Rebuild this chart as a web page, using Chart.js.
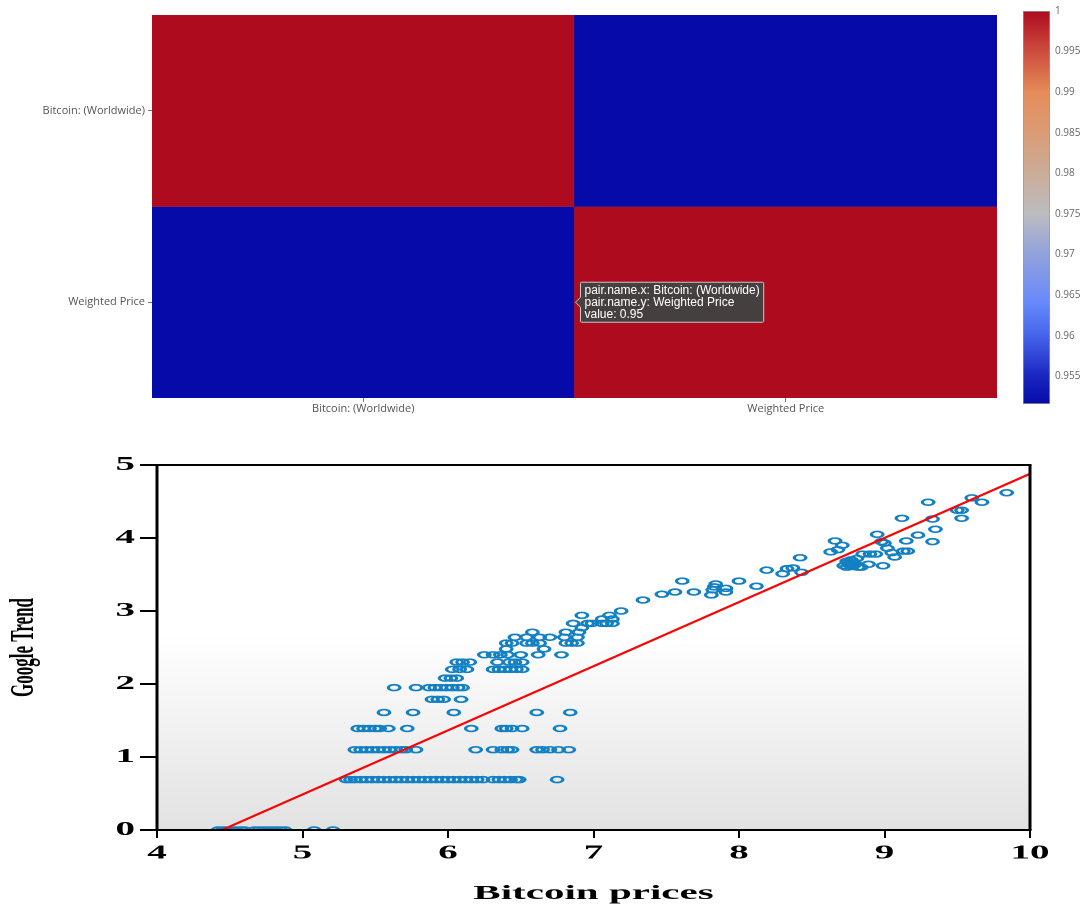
<!DOCTYPE html>
<html>
<head>
<meta charset="utf-8">
<script src="https://cdn.jsdelivr.net/npm/chart.js@4.4.0/dist/chart.umd.min.js"></script>
<style>
html, body { margin: 0; padding: 0; background: #fff; }
body { width: 1082px; height: 907px; position: relative; overflow: hidden; }
#heat { position: absolute; left: 0; top: 0; }
#colorbar { position: absolute; left: 1005px; top: 0; }
#scatter { position: absolute; left: 0; top: 440px; transform: scaleY(0.5); transform-origin: 0 0; }
</style>
</head>
<body>
<canvas id="heat" width="1005" height="420"></canvas>
<canvas id="colorbar" width="77" height="420"></canvas>
<canvas id="scatter" width="1082" height="934"></canvas>
<script>
// correlation matrix
const pairNames = ['Bitcoin: (Worldwide)', 'Weighted Price'];
const corrRows = [
    [1, 0.9516],
    [0.9516, 1]
];
const colorbarMin = 0.9516;
const colorbarTicks = [0.955, 0.96, 0.965, 0.97, 0.975, 0.98, 0.985, 0.99, 0.995, 1];

// scatter: log bitcoin price vs log google trend
const bitcoinPrice = [
    4.42, 4.45, 4.47, 4.50, 4.52, 4.55, 4.58, 4.60, 4.67, 4.70, 4.73, 4.76, 4.79, 4.82, 4.85, 4.88, 5.08, 5.21,
    5.30, 5.33, 5.36, 5.40, 5.44, 5.48, 5.52, 5.56, 5.60, 5.64, 5.68, 5.72, 5.76, 5.80, 5.84, 5.88, 5.92, 5.96,
    6.00, 6.04, 6.08, 6.12, 6.16, 6.20, 6.24, 6.31, 6.35, 6.39, 6.43, 6.47, 6.49, 6.75,
    5.36, 5.40, 5.44, 5.48, 5.52, 5.56, 5.60, 5.64, 5.68, 5.71, 5.78, 6.19, 6.31, 6.37, 6.41, 6.44, 6.61, 6.65, 6.70, 6.76, 6.83,
    5.38, 5.42, 5.46, 5.50, 5.53, 5.59, 5.72, 6.16, 6.37, 6.40, 6.44, 6.51, 6.77,
    5.56, 5.76, 6.04, 6.61, 6.84,
    5.89, 5.93, 5.97, 6.09,
    5.63, 5.78, 5.87, 5.91, 5.95, 5.99, 6.03, 6.07, 6.10,
    5.98, 6.02, 6.06,
    6.03, 6.08, 6.13, 6.31, 6.35, 6.39, 6.43, 6.47, 6.51,
    6.06, 6.10, 6.15, 6.34, 6.42, 6.46, 6.51,
    6.25, 6.31, 6.36, 6.41, 6.50, 6.62, 6.78,
    6.40, 6.66,
    6.40, 6.44, 6.54, 6.58, 6.63, 6.81, 6.85, 6.89,
    6.46, 6.54, 6.63, 6.70, 6.80, 6.89,
    6.58, 6.81, 6.90,
    6.92,
    6.86, 6.96, 6.99, 7.06, 7.09, 7.13,
    7.06, 7.13,
    6.92, 7.11,
    7.19,
    7.34, 7.47, 7.56, 7.61, 7.69, 7.81, 7.82, 7.83, 7.84, 7.91, 7.91, 8.00, 8.12, 8.19, 8.30, 8.33, 8.37, 8.42, 8.43,
    8.63, 8.66, 8.68, 8.71, 8.72, 8.74, 8.75, 8.76, 8.77, 8.78, 8.79, 8.80, 8.81, 8.82, 8.74, 8.77, 8.84,
    8.85, 8.90, 8.94, 8.89, 8.95, 8.98, 8.99, 9.00, 9.02, 9.05, 9.07, 9.12, 9.15, 9.13, 9.16, 9.23,
    9.30, 9.33, 9.33, 9.35, 9.50, 9.53, 9.53, 9.60, 9.67, 9.84
];
const googleTrend = [
    0, 0, 0, 0, 0, 0, 0, 0, 0, 0, 0, 0, 0, 0, 0, 0, 0, 0,
    0.69, 0.69, 0.69, 0.69, 0.69, 0.69, 0.69, 0.69, 0.69, 0.69, 0.69, 0.69, 0.69, 0.69, 0.69, 0.69, 0.69, 0.69,
    0.69, 0.69, 0.69, 0.69, 0.69, 0.69, 0.69, 0.69, 0.69, 0.69, 0.69, 0.69, 0.69, 0.69,
    1.1, 1.1, 1.1, 1.1, 1.1, 1.1, 1.1, 1.1, 1.1, 1.1, 1.1, 1.1, 1.1, 1.1, 1.1, 1.1, 1.1, 1.1, 1.1, 1.1, 1.1,
    1.39, 1.39, 1.39, 1.39, 1.39, 1.39, 1.39, 1.39, 1.39, 1.39, 1.39, 1.39, 1.39,
    1.61, 1.61, 1.61, 1.61, 1.61,
    1.79, 1.79, 1.79, 1.79,
    1.95, 1.95, 1.95, 1.95, 1.95, 1.95, 1.95, 1.95, 1.95,
    2.08, 2.08, 2.08,
    2.2, 2.2, 2.2, 2.2, 2.2, 2.2, 2.2, 2.2, 2.2,
    2.3, 2.3, 2.3, 2.3, 2.3, 2.3, 2.3,
    2.4, 2.4, 2.4, 2.4, 2.4, 2.4, 2.4,
    2.48, 2.48,
    2.56, 2.56, 2.56, 2.56, 2.56, 2.56, 2.56, 2.56,
    2.64, 2.64, 2.64, 2.64, 2.64, 2.64,
    2.71, 2.71, 2.71,
    2.77,
    2.83, 2.83, 2.83, 2.83, 2.83, 2.83,
    2.89, 2.89,
    2.94, 2.94,
    3.0,
    3.15, 3.23, 3.26, 3.41, 3.26, 3.22, 3.29, 3.33, 3.37, 3.31, 3.26, 3.41, 3.34, 3.56, 3.51, 3.58, 3.59, 3.73, 3.53,
    3.81, 3.96, 3.84, 3.90, 3.62, 3.60, 3.66, 3.63, 3.70, 3.61, 3.67, 3.64, 3.72, 3.60, 3.68, 3.65, 3.60,
    3.78, 3.78, 3.78, 3.64, 4.05, 3.95, 3.62, 3.93, 3.86, 3.80, 3.74, 4.27, 3.96, 3.82, 3.82, 4.04,
    4.49, 4.26, 3.95, 4.12, 4.38, 4.38, 4.27, 4.55, 4.49, 4.62
];
const fitPrice = [4.446, 10];
const fitTrend = [0, 4.88];
const xTicks = [4, 5, 6, 7, 8, 9, 10];
const yTicks = [0, 1, 2, 3, 4, 5];

// coolwarm-like colour scale used by the heatmap and the colorbar
const colorStops = [
    [0.9516, [5, 10, 168]],
    [0.955, [25, 38, 190]],
    [0.96, [70, 100, 235]],
    [0.964, [102, 136, 250]],
    [0.97, [145, 162, 220]],
    [0.975, [188, 188, 192]],
    [0.98, [202, 172, 152]],
    [0.985, [218, 156, 118]],
    [0.99, [230, 140, 90]],
    [0.995, [205, 76, 62]],
    [1, [174, 11, 31]]
];

function colorFor(v) {
    for (let i = 1; i < colorStops.length; i++) {
        const [v0, c0] = colorStops[i - 1];
        const [v1, c1] = colorStops[i];
        if (v <= v1) {
            const t = Math.max(0, (v - v0) / (v1 - v0));
            const c = c0.map((a, k) => Math.round(a + (c1[k] - a) * t));
            return `rgb(${c[0]}, ${c[1]}, ${c[2]})`;
        }
    }
    const c = colorStops[colorStops.length - 1][1];
    return `rgb(${c[0]}, ${c[1]}, ${c[2]})`;
}

const smallFont = { family: '"Open Sans", "Noto Sans", sans-serif', size: 11 };

Chart.Tooltip.positioners.cellEdge = function(items) {
    if (!items.length) return false;
    const el = items[0].element;
    return { x: el.x + el.width / 2, y: (el.y + el.base) / 2 };
};

// ---- heatmap ----
const heat = new Chart(document.getElementById('heat'), {
    type: 'bar',
    data: {
        labels: pairNames,
        datasets: corrRows.map((row, r) => ({
            data: row.map(() => [r, r + 1]),
            backgroundColor: row.map(v => colorFor(v)),
            borderWidth: 0,
            barPercentage: 1,
            categoryPercentage: 1,
            grouped: false
        }))
    },
    options: {
        responsive: false,
        animation: false,
        events: [],
        layout: { padding: { top: 15, right: 8, left: 0, bottom: 0 } },
        plugins: {
            legend: { display: false },
            tooltip: {
                enabled: true,
                position: 'cellEdge',
                xAlign: 'left',
                yAlign: 'center',
                caretSize: 5,
                caretPadding: 1,
                displayColors: false,
                backgroundColor: 'rgba(66, 66, 66, 0.96)',
                borderColor: '#c8c8c8',
                borderWidth: 1,
                cornerRadius: 1,
                padding: { x: 4, y: 2 },
                bodyFont: { family: '"Liberation Sans", Arial, sans-serif', size: 12, lineHeight: 1.0 },
                bodySpacing: 0,
                bodyColor: '#fff',
                callbacks: {
                    title: () => '',
                    label: ctx => [
                        'pair.name.x: ' + pairNames[ctx.dataIndex],
                        'pair.name.y: ' + pairNames[ctx.datasetIndex],
                        'value: ' + corrRows[ctx.datasetIndex][ctx.dataIndex].toFixed(2)
                    ]
                }
            }
        },
        scales: {
            x: {
                afterFit: s => { s.height = 22; },
                grid: { offset: false, drawOnChartArea: false, drawTicks: true, tickLength: 4, color: '#777' },
                border: { display: false },
                ticks: { font: smallFont, color: '#555', padding: 0, maxRotation: 0 }
            },
            y: {
                type: 'linear',
                min: 0,
                max: 2,
                reverse: true,
                afterBuildTicks: s => { s.ticks = [{ value: 0.5 }, { value: 1.5 }]; },
                afterFit: s => { s.width = 152; },
                grid: { drawOnChartArea: false, drawTicks: true, tickLength: 4, color: '#777' },
                border: { display: false },
                ticks: { font: smallFont, color: '#555', padding: 3, callback: (v, i) => pairNames[i] }
            }
        }
    }
});
heat.tooltip.setActiveElements([{ datasetIndex: 1, index: 0 }], { x: 574, y: 302 });
heat.update();

// ---- colorbar ----
new Chart(document.getElementById('colorbar'), {
    type: 'bar',
    data: {
        labels: [''],
        datasets: [{
            data: [[colorbarMin, 1]],
            backgroundColor: ctx => {
                const area = ctx.chart.chartArea;
                if (!area) return null;
                const g = ctx.chart.ctx.createLinearGradient(0, area.bottom, 0, area.top);
                colorStops.forEach(([v]) => g.addColorStop((v - colorbarMin) / (1 - colorbarMin), colorFor(v)));
                return g;
            },
            borderColor: '#999',
            borderWidth: 1,
            borderSkipped: false,
            barPercentage: 1,
            categoryPercentage: 1
        }]
    },
    options: {
        responsive: false,
        animation: false,
        events: [],
        layout: { padding: { top: 8, bottom: 16, left: 18, right: 0 } },
        plugins: { legend: { display: false }, tooltip: { enabled: false } },
        scales: {
            x: { display: false },
            y: {
                position: 'right',
                min: colorbarMin,
                max: 1,
                afterBuildTicks: s => { s.ticks = colorbarTicks.map(v => ({ value: v })); },
                afterFit: s => { s.width = 32; },
                grid: { display: false, drawTicks: false },
                border: { display: false },
                ticks: {
                    font: { family: '"Open Sans", sans-serif', size: 10 },
                    color: '#666',
                    padding: 5,
                    callback: v => String(+v.toFixed(3))
                }
            }
        }
    }
});

// ---- scatter with fitted line (drawn at 2x height, squashed by css) ----
const plotBackground = {
    id: 'plotBackground',
    beforeDraw(chart) {
        const { ctx, chartArea: a } = chart;
        const g = ctx.createLinearGradient(0, a.top, 0, a.bottom);
        g.addColorStop(0, '#ffffff');
        g.addColorStop(0.47, '#ffffff');
        g.addColorStop(1, '#e2e2e2');
        ctx.save();
        ctx.fillStyle = g;
        ctx.fillRect(a.left, a.top, a.right - a.left, a.bottom - a.top);
        ctx.restore();
    }
};
const plotFrame = {
    id: 'plotFrame',
    afterDatasetsDraw(chart) {
        const { ctx, chartArea: a } = chart;
        ctx.save();
        ctx.strokeStyle = '#000';
        ctx.lineWidth = 4;
        ctx.beginPath();
        ctx.moveTo(a.left - 1.5, a.top); ctx.lineTo(a.right + 1.5, a.top);
        ctx.moveTo(a.left - 1.5, a.bottom); ctx.lineTo(a.right + 1.5, a.bottom);
        ctx.stroke();
        ctx.lineWidth = 3;
        ctx.beginPath();
        ctx.moveTo(a.left, a.top); ctx.lineTo(a.left, a.bottom);
        ctx.moveTo(a.right, a.top); ctx.lineTo(a.right, a.bottom);
        ctx.stroke();
        ctx.restore();
    }
};

const serifBold = size => ({ family: '"Liberation Serif", "Times New Roman", serif', size: size, weight: 'bold' });

new Chart(document.getElementById('scatter'), {
    type: 'scatter',
    data: {
        datasets: [{
            type: 'line',
            data: fitPrice.map((x, i) => ({ x: x, y: fitTrend[i] })),
            borderColor: '#ff0000',
            borderWidth: 3.6,
            pointRadius: 0,
            fill: false,
            order: 0
        }, {
            data: bitcoinPrice.map((x, i) => ({ x: x, y: googleTrend[i] })),
            pointStyle: 'circle',
            pointRadius: 5.8,
            pointBorderWidth: 3.3,
            pointBorderColor: '#1380c4',
            pointBackgroundColor: 'rgba(0,0,0,0)',
            clip: 0,
            order: 1
        }]
    },
    options: {
        responsive: false,
        animation: false,
        events: [],
        layout: { padding: { top: 50, right: 52, left: 0, bottom: 0 } },
        plugins: { legend: { display: false }, tooltip: { enabled: false } },
        scales: {
            x: {
                type: 'linear',
                min: 4,
                max: 10,
                afterBuildTicks: s => { s.ticks = xTicks.map(v => ({ value: v })); },
                afterFit: s => { s.height = 154; },
                border: { display: false },
                grid: { drawOnChartArea: false, drawTicks: true, tickLength: 16, color: '#000', lineWidth: 2 },
                ticks: { font: serifBold(39), color: '#000', padding: 8, maxRotation: 0 },
                title: { display: true, text: 'Bitcoin prices', font: serifBold(41), color: '#000', padding: { top: 0, bottom: 2 } }
            },
            y: {
                min: 0,
                max: 5,
                afterBuildTicks: s => { s.ticks = yTicks.map(v => ({ value: v })); },
                afterFit: s => { s.width = 157; },
                border: { display: false },
                grid: { drawOnChartArea: false, drawTicks: true, tickLength: 17, color: '#000', lineWidth: 4 },
                ticks: { font: serifBold(39), color: '#000', padding: 5 },
                title: { display: true, text: 'Google Trend', font: serifBold(34), color: '#000', padding: { top: 4, bottom: 0 } }
            }
        }
    },
    plugins: [plotBackground, plotFrame]
});
</script>
</body>
</html>
